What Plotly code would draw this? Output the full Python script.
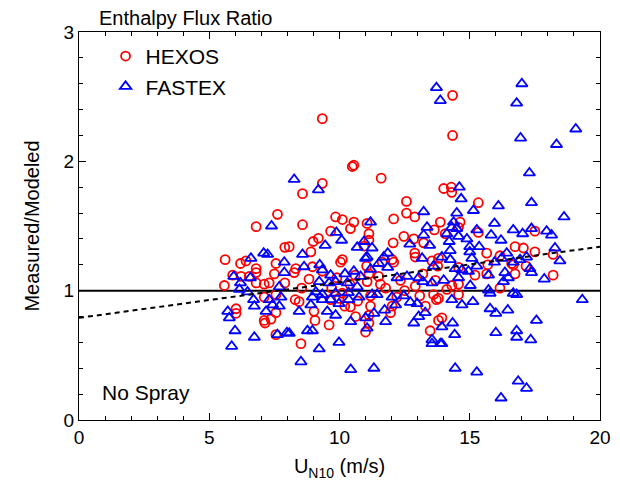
import plotly.graph_objects as go

# HEXOS (red circles)
hexos_u = [9.34, 14.34, 14.34, 10.49, 10.55, 11.6, 9.34, 8.58, 14.0, 14.29, 14.31, 15.33, 12.57, 12.57, 12.08, 12.89,
           13.87, 14.63, 11.06, 11.13, 13.64, 12.47, 12.85, 12.06, 11.13, 13.23, 12.89, 12.91, 12.02, 12.08, 11.64, 11.04,
           13.55, 13.77, 13.2, 11.13, 11.06, 11.5, 11.57, 11.77, 12.34, 12.91, 13.68, 13.61, 13.72, 13.08, 11.19, 11.19,
           12.02, 11.96, 11.13, 11.13, 11.0, 13.48, 13.8, 14.06, 14.57, 15.33, 16.74, 15.65, 16.16, 13.8, 15.69, 16.61,
           15.65, 14.57, 14.31, 14.57, 14.12, 14.57, 13.8, 16.16, 13.93, 17.5, 17.06, 17.5, 18.2, 16.67, 17.16, 16.74,
           18.2, 9.85, 10.11, 10.55, 10.42, 8.58, 9.66, 9.19, 8.99, 8.9, 10.94, 10.11, 10.04, 8.32, 8.26, 8.96,
           9.34, 8.83, 8.55, 8.3, 8.45, 9.02, 9.06, 9.6, 10.62, 10.42, 9.98, 9.66, 8.52, 8.07, 7.62, 6.8,
           7.9, 5.61, 6.2, 6.41, 6.8, 6.8, 7.56, 7.5, 5.9, 6.22, 5.58, 6.8, 7.11, 7.3, 7.9, 7.11,
           7.56, 6.03, 6.03, 7.56, 7.37, 7.11, 7.14, 7.56, 6.54, 9.7, 10.1, 10.4, 10.7, 10.2, 9.9, 10.6,
           12.5, 12.2, 15.2, 13.3]
hexos_ratio = [2.33, 2.51, 2.20, 1.96, 1.97, 1.87, 1.83, 1.75, 1.79, 1.80, 1.76, 1.68, 1.69, 1.60, 1.555, 1.57,
               1.53, 1.53, 1.52, 1.44, 1.47, 1.42, 1.40, 1.37, 1.39, 1.37, 1.29, 1.26, 1.24, 1.22, 1.22, 1.19,
               1.23, 1.19, 1.13, 1.13, 1.07, 1.11, 1.05, 1.02, 1.08, 1.035, 1.08, 0.97, 0.93, 0.96, 0.96, 0.88,
               0.88, 0.83, 0.81, 0.75, 0.68, 0.69, 0.77, 1.44, 1.49, 1.45, 1.34, 1.29, 1.27, 1.25, 1.20, 1.21,
               1.13, 1.18, 1.04, 1.05, 1.01, 0.97, 0.94, 1.02, 0.79, 1.46, 1.33, 1.30, 1.28, 1.20, 1.19, 1.13,
               1.12, 1.57, 1.55, 1.53, 1.48, 1.51, 1.46, 1.405, 1.38, 1.30, 1.345, 1.24, 1.22, 1.17, 1.14, 1.185,
               1.15, 1.09, 1.02, 0.93, 0.915, 0.84, 0.77, 0.735, 0.80, 0.875, 0.94, 0.93, 0.59, 1.34, 1.59, 1.495,
               1.335, 1.24, 1.21, 1.23, 1.17, 1.14, 1.21, 1.13, 1.12, 1.11, 1.04, 1.06, 1.05, 1.06, 1.06, 0.95,
               0.97, 0.86, 0.825, 0.83, 0.78, 0.77, 0.75, 0.66, 1.11, 1.02, 0.98, 1.05, 0.92, 0.88, 1.10, 1.12,
               1.00, 0.95, 1.12, 0.88]

# FASTEX (blue triangles)
fastex_u = [13.72, 13.87, 17.0, 16.8, 19.07, 16.95, 18.33, 17.29, 17.37, 18.62, 16.67, 17.03, 17.37, 17.95, 18.14, 18.27,
            18.46, 17.18, 16.93, 16.67, 17.31, 17.37, 17.86, 16.8, 19.32, 17.56, 16.8, 16.8, 17.34, 16.86, 17.18, 14.6,
            14.67, 16.1, 15.14, 14.5, 14.38, 15.95, 14.31, 14.5, 15.27, 15.82, 14.12, 14.57, 14.89, 16.2, 14.21, 15.36,
            15.0, 15.0, 16.42, 14.25, 13.93, 14.25, 15.08, 16.22, 15.95, 15.27, 14.44, 14.7, 14.95, 15.72, 16.35, 16.48,
            16.29, 14.0, 14.57, 15.02, 15.72, 15.78, 16.67, 14.31, 14.7, 15.12, 15.78, 16.0, 16.46, 14.34, 13.93, 14.42,
            13.93, 16.0, 14.44, 15.27, 16.2, 13.23, 11.19, 13.36, 13.23, 13.46, 12.7, 10.94, 11.25, 11.85, 11.7, 11.06,
            11.51, 11.85, 11.19, 13.17, 13.61, 12.59, 12.21, 13.2, 13.55, 13.04, 11.44, 11.25, 12.02, 12.47, 12.72, 12.98,
            12.15, 11.73, 11.32, 13.29, 13.04, 12.85, 11.77, 11.0, 11.06, 13.55, 13.55, 13.87, 11.32, 8.26, 9.19, 9.88,
            10.08, 9.45, 8.58, 10.68, 11.0, 8.64, 9.24, 9.34, 9.66, 10.21, 10.55, 10.81, 9.22, 9.6, 9.85, 10.3,
            10.68, 9.09, 9.34, 9.85, 10.34, 8.96, 9.34, 9.66, 9.98, 10.36, 10.75, 8.9, 9.53, 9.85, 10.43, 8.45,
            8.77, 8.96, 8.07, 9.22, 9.98, 8.52, 10.43, 7.39, 7.09, 7.24, 6.6, 7.88, 7.88, 5.94, 6.58, 6.2,
            6.16, 7.69, 6.47, 6.7, 7.3, 7.75, 6.73, 7.43, 7.69, 7.18, 5.71, 5.77, 5.99, 6.73, 7.62, 7.98,
            5.86]
fastex_ratio = [2.57, 2.47, 2.60, 2.45, 2.25, 2.18, 2.13, 1.91, 1.68, 1.57, 1.47, 1.44, 1.48, 1.46, 1.43, 1.33,
                1.23, 1.26, 1.24, 1.22, 1.17, 1.14, 1.09, 0.97, 0.93, 0.77, 0.69, 0.64, 0.62, 0.30, 0.245, 1.80,
                1.71, 1.655, 1.62, 1.60, 1.53, 1.52, 1.49, 1.48, 1.47, 1.43, 1.44, 1.42, 1.40, 1.39, 1.38, 1.34,
                1.34, 1.30, 1.29, 1.31, 1.26, 1.24, 1.25, 1.25, 1.22, 1.19, 1.17, 1.16, 1.15, 1.12, 1.14, 1.10,
                1.07, 1.08, 1.10, 1.04, 1.005, 0.98, 0.98, 0.93, 0.89, 0.915, 0.86, 0.825, 0.85, 0.75, 0.72, 0.66,
                0.59, 0.675, 0.40, 0.37, 0.17, 1.61, 1.53, 1.49, 1.43, 1.35, 1.36, 1.38, 1.33, 1.29, 1.26, 1.26,
                1.21, 1.18, 1.165, 1.25, 1.19, 1.11, 1.10, 1.07, 1.06, 1.10, 0.97, 0.97, 0.95, 0.96, 0.91, 0.90,
                0.89, 0.85, 0.825, 0.83, 0.80, 0.75, 0.76, 0.79, 0.71, 0.62, 0.59, 0.59, 0.40, 1.86, 1.78, 1.45,
                1.39, 1.35, 1.28, 1.335, 1.25, 1.185, 1.20, 1.16, 1.12, 1.13, 1.15, 1.11, 1.07, 1.06, 1.07, 1.06,
                1.03, 0.99, 0.97, 0.98, 0.985, 0.95, 0.93, 0.93, 0.90, 0.93, 0.95, 0.89, 0.84, 0.81, 0.76, 0.84,
                0.69, 0.69, 0.67, 0.55, 0.60, 0.45, 0.39, 1.50, 1.29, 1.28, 1.25, 1.22, 1.14, 1.11, 1.10, 1.06,
                1.01, 1.03, 0.99, 0.93, 0.93, 0.95, 0.88, 0.89, 0.88, 0.84, 0.84, 0.79, 0.69, 0.64, 0.66, 0.675,
                0.57]

# Reference line (ratio = 1) and linear fit (dashed)
ref_x = [0, 20]
ref_y = [1, 1]
fit_intercept = 0.79
fit_slope = 0.0275
fit_y = [fit_intercept + fit_slope * u for u in ref_x]

x_ticks = [0, 5, 10, 15, 20]
y_ticks = [0, 1, 2, 3]

FONT = "Liberation Sans, Arial, sans-serif"

fig = go.Figure()
fig.add_trace(go.Scatter(x=ref_x, y=ref_y, mode="lines", line=dict(color="black", width=2),
                         showlegend=False, hoverinfo="skip"))
fig.add_trace(go.Scatter(x=hexos_u, y=hexos_ratio, mode="markers", name="HEXOS",
                         marker=dict(symbol="circle-open", size=9, color="#ff0000", line=dict(width=1.8))))
fig.add_trace(go.Scatter(x=fastex_u, y=fastex_ratio, mode="markers", name="FASTEX",
                         marker=dict(symbol="triangle-up-open", size=10, color="#0000ff", line=dict(width=1.8))))
fig.add_trace(go.Scatter(x=ref_x, y=fit_y, mode="lines", line=dict(color="black", width=2, dash="5px,4px"),
                         showlegend=False, hoverinfo="skip"))

axis_common = dict(showline=True, linecolor="black", linewidth=1.2, mirror="ticks", ticks="inside",
                   tickcolor="black", showgrid=False, zeroline=False, automargin=False,
                   tickfont=dict(family=FONT, size=19, color="black"))

fig.update_xaxes(range=[0, 20], tickvals=x_ticks, ticklen=7,
                 minor=dict(dtick=1, ticks="inside", ticklen=4, tickcolor="black", showgrid=False),
                 title=dict(text="U<sub>N10</sub> (m/s)", font=dict(family=FONT, size=20, color="black"), standoff=12),
                 **axis_common)
fig.update_yaxes(range=[0, 3], tickvals=y_ticks, ticklen=7,
                 minor=dict(dtick=0.2, ticks="inside", ticklen=4, tickcolor="black", showgrid=False),
                 title=dict(text="Measured/Modeled", font=dict(family=FONT, size=20, color="black"), standoff=18),
                 **axis_common)

fig.add_annotation(text="Enthalpy Flux Ratio", xref="paper", yref="paper", x=0.034, y=1.036,
                   xanchor="left", yanchor="middle", showarrow=False,
                   font=dict(family=FONT, size=20, color="black"))
fig.add_annotation(text="No Spray", xref="paper", yref="paper", x=0.040, y=0.072,
                   xanchor="left", yanchor="middle", showarrow=False,
                   font=dict(family=FONT, size=21, color="black"))

# page body has an 8px offset, so the figure is sized to fit the 620x490 window
fig.update_layout(
    width=612, height=482,
    margin=dict(l=71, r=20, t=24, b=70),
    paper_bgcolor="white", plot_bgcolor="white",
    font=dict(family=FONT, color="black"),
    legend=dict(x=0.051, y=0.99, xanchor="left", yanchor="top", bgcolor="rgba(0,0,0,0)",
                font=dict(family=FONT, size=21, color="black"), itemwidth=30, tracegroupgap=2),
)

fig.write_html("out.html")
